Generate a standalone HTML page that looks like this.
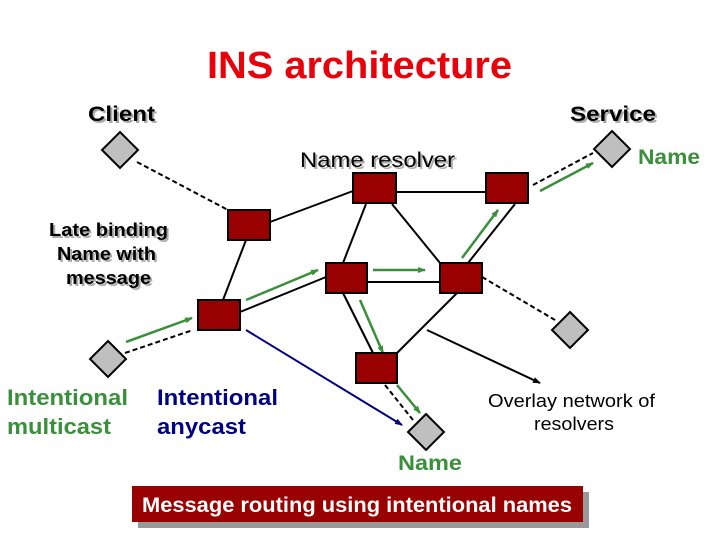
<!DOCTYPE html>
<html><head><style>
html,body{margin:0;padding:0;background:#fff;}
svg{display:block;}
text{font-family:"Liberation Sans",sans-serif;}
</style></head><body>
<svg width="720" height="540" viewBox="0 0 720 540" xmlns="http://www.w3.org/2000/svg">
<defs>
<marker id="g" markerWidth="8" markerHeight="8" refX="7" refY="4" orient="auto" markerUnits="userSpaceOnUse"><path d="M0,1 L8,4 L0,7 z" fill="#3a8f3a"/></marker>
<marker id="k" markerWidth="8" markerHeight="8" refX="7" refY="4" orient="auto" markerUnits="userSpaceOnUse"><path d="M0,1 L8,4 L0,7 z" fill="#000"/></marker>
<marker id="b" markerWidth="8" markerHeight="8" refX="7" refY="4" orient="auto" markerUnits="userSpaceOnUse"><path d="M0,1 L8,4 L0,7 z" fill="#000080"/></marker>
</defs>
<g lengthAdjust="spacingAndGlyphs">
<text x="207" y="78" font-size="38" font-weight="bold" fill="#e8000b" textLength="305" lengthAdjust="spacingAndGlyphs">INS architecture</text>
<g font-size="21" font-weight="bold">
<text x="90" y="123" fill="#aaa" textLength="67" lengthAdjust="spacingAndGlyphs">Client</text><text x="88" y="121" textLength="67" lengthAdjust="spacingAndGlyphs">Client</text>
<text x="572" y="123" fill="#aaa" textLength="86" lengthAdjust="spacingAndGlyphs">Service</text><text x="570" y="121" textLength="86" lengthAdjust="spacingAndGlyphs">Service</text>
</g>
<text x="302" y="169" font-size="21" fill="#aaa" textLength="155" lengthAdjust="spacingAndGlyphs">Name resolver</text>
<text x="300" y="167" font-size="21" fill="#000" textLength="155" lengthAdjust="spacingAndGlyphs">Name resolver</text>
<text x="638" y="164" font-size="21" font-weight="bold" fill="#3a8f3a" textLength="62" lengthAdjust="spacingAndGlyphs">Name</text>
<g font-size="18" font-weight="bold">
<text x="51" y="238" fill="#aaa" textLength="119" lengthAdjust="spacingAndGlyphs">Late binding</text><text x="49" y="236" textLength="119" lengthAdjust="spacingAndGlyphs">Late binding</text>
<text x="59" y="262" fill="#aaa" textLength="99" lengthAdjust="spacingAndGlyphs">Name with</text><text x="57" y="260" textLength="99" lengthAdjust="spacingAndGlyphs">Name with</text>
<text x="68" y="286" fill="#aaa" textLength="85" lengthAdjust="spacingAndGlyphs">message</text><text x="66" y="284" textLength="85" lengthAdjust="spacingAndGlyphs">message</text>
</g>
<g font-size="22" font-weight="bold">
<text x="7" y="405" fill="#3a8f3a" textLength="121" lengthAdjust="spacingAndGlyphs">Intentional</text><text x="7" y="434" fill="#3a8f3a" textLength="104" lengthAdjust="spacingAndGlyphs">multicast</text>
<text x="157" y="405" fill="#000080" textLength="121" lengthAdjust="spacingAndGlyphs">Intentional</text><text x="157" y="434" fill="#000080" textLength="89" lengthAdjust="spacingAndGlyphs">anycast</text>
</g>
<text x="488" y="407" font-size="18" textLength="167" lengthAdjust="spacingAndGlyphs">Overlay network of</text>
<text x="534" y="430" font-size="18" textLength="80" lengthAdjust="spacingAndGlyphs">resolvers</text>
<text x="398" y="470" font-size="21" font-weight="bold" fill="#3a8f3a" textLength="64" lengthAdjust="spacingAndGlyphs">Name</text>
</g>

<g stroke="#000" stroke-width="2">
<line x1="246" y1="240" x2="223" y2="300"/>
<line x1="270" y1="222" x2="353" y2="191"/>
<line x1="396" y1="192" x2="486" y2="192"/>
<line x1="366" y1="204" x2="343" y2="263"/>
<line x1="392" y1="204" x2="440" y2="263"/>
<line x1="468" y1="263" x2="515" y2="204"/>
<line x1="368" y1="282" x2="440" y2="282"/>
<line x1="240" y1="312" x2="326" y2="277"/>
<line x1="343" y1="293" x2="373" y2="353"/>
<line x1="457" y1="293" x2="397" y2="353"/>
<line x1="427" y1="330" x2="540" y2="383" marker-end="url(#k)"/>
</g>
<line x1="246" y1="330" x2="402" y2="425" stroke="#000080" stroke-width="2" marker-end="url(#b)"/>
<g stroke="#000" stroke-width="2" stroke-dasharray="5,3">
<line x1="137" y1="162" x2="228" y2="210"/>
<line x1="125" y1="353" x2="193" y2="330"/>
<line x1="385" y1="385" x2="413" y2="420"/>
<line x1="482" y1="277" x2="555" y2="320"/>
<line x1="533" y1="185" x2="593" y2="153"/>
</g>
<g stroke="#3a8f3a" stroke-width="2.5" marker-end="url(#g)">
<line x1="126" y1="342" x2="192" y2="318"/>
<line x1="246" y1="300" x2="318" y2="270"/>
<line x1="373" y1="270" x2="425" y2="270"/>
<line x1="462" y1="258" x2="498" y2="210"/>
<line x1="540" y1="191" x2="593" y2="163"/>
<line x1="360" y1="300" x2="383" y2="353"/>
<line x1="397" y1="385" x2="420" y2="413"/>
</g>
<g fill="#990000" stroke="#000" stroke-width="2">
<rect x="228" y="210" width="42" height="30"/>
<rect x="353" y="173" width="43" height="30"/>
<rect x="486" y="173" width="42" height="30"/>
<rect x="326" y="263" width="41" height="30"/>
<rect x="440" y="263" width="42" height="30"/>
<rect x="356" y="353" width="41" height="30"/>
<rect x="198" y="300" width="42" height="30"/>
</g>
<g fill="#bfbfbf" stroke="#000" stroke-width="2">
<path d="M120,132 L138,150 L120,168 L102,150 z"/>
<path d="M108,341 L126,359 L108,377 L90,359 z"/>
<path d="M426,414 L444,432 L426,450 L408,432 z"/>
<path d="M570,312 L588,330 L570,348 L552,330 z"/>
<path d="M612,131 L630,149 L612,167 L594,149 z"/>
</g>
<rect x="138" y="492" width="451" height="36" fill="#999"/>
<rect x="132" y="486" width="451" height="36" fill="#990000"/>
<text x="142" y="512" font-size="21" font-weight="bold" fill="#fff" textLength="430" lengthAdjust="spacingAndGlyphs">Message routing using intentional names</text>
</svg>
</body></html>
